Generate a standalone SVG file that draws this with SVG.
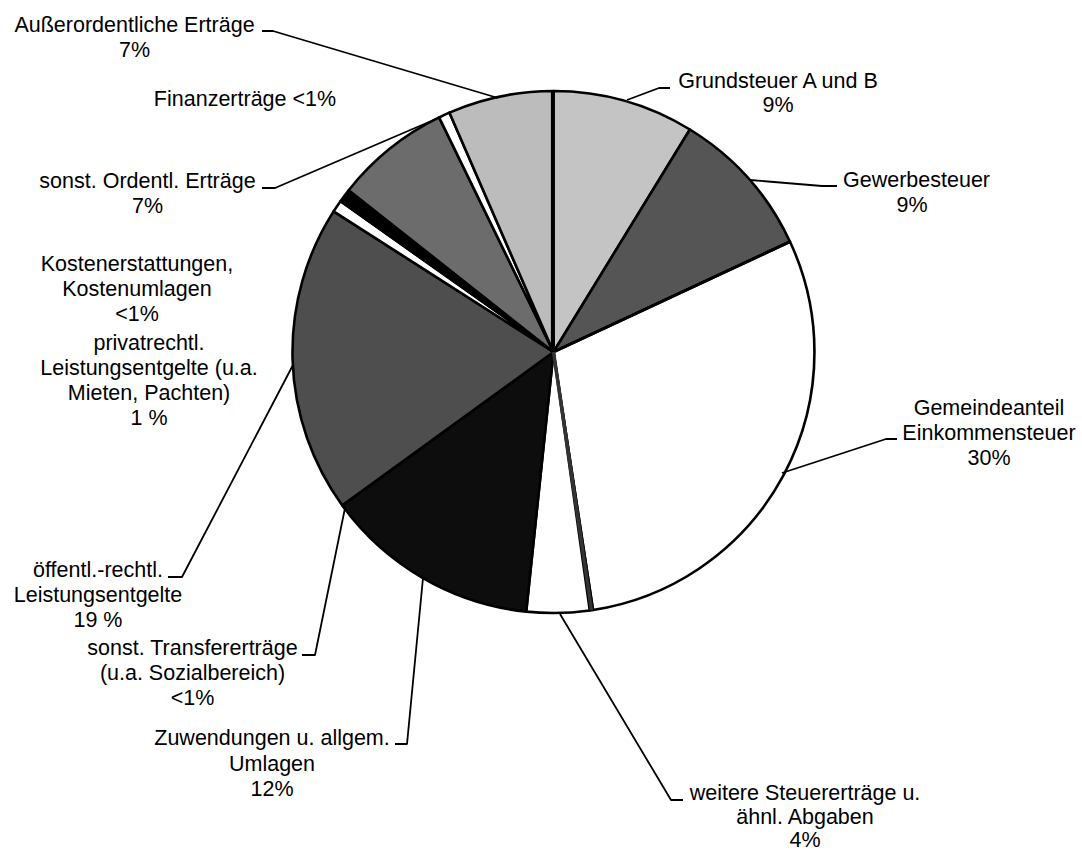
<svg xmlns="http://www.w3.org/2000/svg" width="1082" height="850" viewBox="0 0 1082 850">
<style>
text{font-family:"Liberation Sans",Arial,sans-serif;font-size:21.5px;fill:#000;text-anchor:middle}
.s{stroke:#000;stroke-width:2.6;stroke-linejoin:round}
.l{fill:none;stroke:#000;stroke-width:1.8;stroke-linejoin:round}
</style>
<rect width="1082" height="850" fill="#fff"/>
<g id="pie">
<path id="grundsteuer" class="s" fill="#c4c4c4" d="M553.5,352 L553.5,91 A261,261 0 0 1 689.9,129.5 Z"/>
<path id="gewerbesteuer" class="s" fill="#555" d="M553.5,352 L689.9,129.5 A261,261 0 0 1 790,241.7 Z"/>
<path id="gemeindeanteil" class="s" fill="#fff" d="M553.5,352 L790,241.7 A261,261 0 0 1 593,610 Z"/>
<path id="sliver1" class="s" fill="#444" d="M553.5,352 L593,610 A261,261 0 0 1 589.8,610.5 Z"/>
<path id="weitere" class="s" fill="#fff" d="M553.5,352 L589.8,610.5 A261,261 0 0 1 526.2,611.6 Z"/>
<path id="zuwendungen" class="s" fill="#0d0d0d" d="M553.5,352 L526.2,611.6 A261,261 0 0 1 342.3,505.4 Z"/>
<path id="oeffentl" class="s" fill="#4e4e4e" d="M553.5,352 L342.3,505.4 A261,261 0 0 1 333.6,211.4 Z"/>
<path id="kostenerstattungen" class="s" fill="#fff" d="M553.5,352 L333.6,211.4 A261,261 0 0 1 340.5,201.2 Z"/>
<path id="privatrechtl" class="s" fill="#000" d="M553.5,352 L340.5,201.2 A261,261 0 0 1 348.7,190.2 Z"/>
<path id="sonstordentl" class="s" fill="#6c6c6c" d="M553.5,352 L348.7,190.2 A261,261 0 0 1 439.1,117.4 Z"/>
<path id="finanz" class="s" fill="#fff" d="M553.5,352 L439.1,117.4 A261,261 0 0 1 449.4,112.6 Z"/>
<path id="ausserordentl" class="s" fill="#bcbcbc" d="M553.5,352 L449.4,112.6 A261,261 0 0 1 553.5,91 Z"/>
<line x1="552.5" y1="352" x2="552.5" y2="91" stroke="#000" stroke-width="3.2"/>
<line x1="553.5" y1="352" x2="790" y2="241.7" stroke="#000" stroke-width="3"/>
<line x1="553.5" y1="352" x2="591.5" y2="610.3" stroke="#333" stroke-width="3.5"/>
</g>
<g id="connectors">
<polyline class="l" points="262,31 273,31 498,98"/>
<polyline class="l" points="262,188 275,188 443,116"/>
<polyline class="l" points="670,88 659,88 627,100"/>
<polyline class="l" points="837,186 822,186 750,180"/>
<polyline class="l" points="897,439 886,439 782,473"/>
<polyline class="l" points="683,800 671,800 560,614"/>
<polyline class="l" points="395,744 407,744 423,578"/>
<polyline class="l" points="302,655 315,655 345,508"/>
<polyline class="l" points="168,577 182,577 293,365"/>
</g>
<g id="label-ausserordentl"><text x="134.5" y="32">Außerordentliche Erträge</text><text x="134.5" y="57">7%</text></g>
<g id="label-finanz"><text x="245" y="106">Finanzerträge &lt;1%</text></g>
<g id="label-sonstordentl"><text x="147.5" y="188">sonst. Ordentl. Erträge</text><text x="147.5" y="213">7%</text></g>
<g id="label-kostenerstattungen"><text x="137" y="271">Kostenerstattungen,</text><text x="137" y="296">Kostenumlagen</text><text x="137" y="321">&lt;1%</text></g>
<g id="label-privatrechtl"><text x="149" y="350">privatrechtl.</text><text x="149" y="375">Leistungsentgelte (u.a.</text><text x="149" y="400">Mieten, Pachten)</text><text x="149" y="425">1 %</text></g>
<g id="label-oeffentl"><text x="98" y="577">öffentl.-rechtl.</text><text x="98" y="602">Leistungsentgelte</text><text x="98" y="627">19 %</text></g>
<g id="label-transfer"><text x="192.5" y="655">sonst. Transfererträge</text><text x="192.5" y="680">(u.a. Sozialbereich)</text><text x="192.5" y="705">&lt;1%</text></g>
<g id="label-zuwendungen"><text x="272" y="745">Zuwendungen u. allgem.</text><text x="272" y="771">Umlagen</text><text x="272" y="796">12%</text></g>
<g id="label-weitere"><text x="805" y="800">weitere Steuererträge u.</text><text x="805" y="824">ähnl. Abgaben</text><text x="805" y="847">4%</text></g>
<g id="label-grundsteuer"><text x="778" y="88">Grundsteuer A und B</text><text x="778" y="112">9%</text></g>
<g id="label-gewerbesteuer"><text x="843" y="187" style="text-anchor:start">Gewerbesteuer</text><text x="912" y="212">9%</text></g>
<g id="label-gemeindeanteil"><text x="989" y="415">Gemeindeanteil</text><text x="989" y="440">Einkommensteuer</text><text x="989" y="465">30%</text></g>
</svg>
